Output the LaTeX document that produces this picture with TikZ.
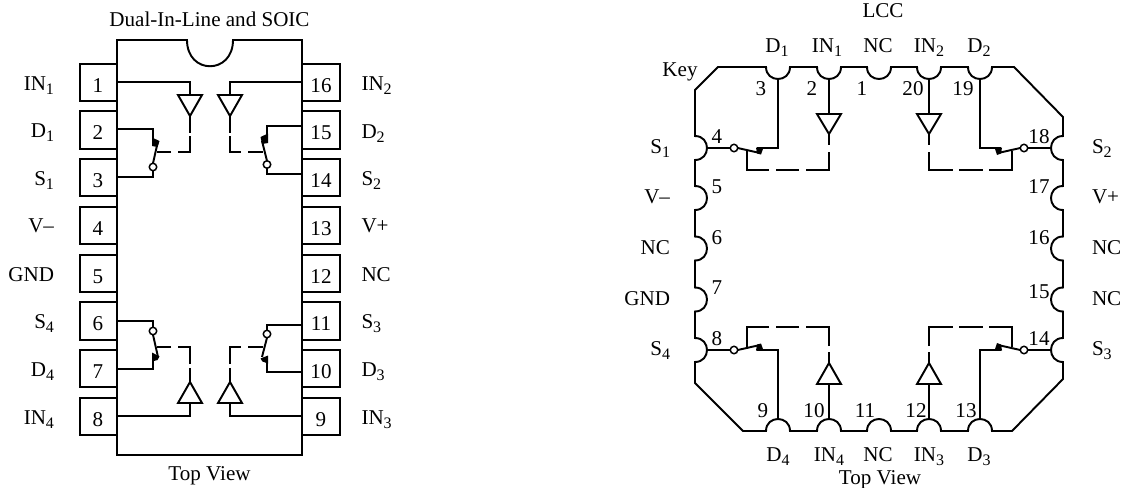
\documentclass[tikz,border=0pt]{standalone}
\usepackage{fontspec}
\setmainfont{Liberation Serif}
\newcommand{\subs}[1]{\raisebox{-3pt}{\fontsize{12pt}{12pt}\selectfont #1}}
\newcommand{\notT}[1]{-- ({#1-12},67) .. controls ({#1-12},83) and ({#1+12},83) .. ({#1+12},67)}
\newcommand{\notB}[1]{-- ({#1+12},431) .. controls ({#1+12},415) and ({#1-12},415) .. ({#1-12},431)}
\newcommand{\notL}[1]{-- (695,{#1+12}) .. controls (711,{#1+12}) and (711,{#1-12}) .. (695,{#1-12})}
\newcommand{\notR}[1]{-- (1063,{#1-12}) .. controls (1047,{#1-12}) and (1047,{#1+12}) .. (1063,{#1+12})}
\tikzset{
  x=0.75pt,y=-0.75pt,
  wire/.style={line width=1.45pt,line join=miter},
  body/.style={line width=1.45pt},
  tri/.style={line width=1.45pt,fill=white},
  blob/.style={fill=black,draw=none},
  pinbox/.style={draw,line width=1.45pt,minimum width=28pt,minimum height=28pt,inner sep=0pt,outer sep=0pt},
  contact/.style={circle,draw,fill=white,line width=1.1pt,minimum size=5.6pt,inner sep=0pt,outer sep=0pt},
  txt/.style={font=\fontsize{15.8pt}{17pt}\selectfont,inner sep=0pt,outer sep=0pt,anchor=base},
  lft/.style={txt,anchor=base east},
  rgt/.style={txt,anchor=base west},
}
\begin{document}
\begin{tikzpicture}
\useasboundingbox (0,0) rectangle (1122,487);
% ---------- Dual-In-Line ----------
\draw[body] (117,40) -- (187,40) .. controls (187,75) and (233,75) .. (233,40) -- (302,40) -- (302,455) -- (117,455) -- cycle;
\foreach \n [count=\i from 0] in {1,2,3,4,5,6,7,8}{
  \node[pinbox] (p\n) at (98.5,{82.2+47.75*\i}) {};
  \node[txt] (pn\n) at (98,{92+47.75*\i}) {\n};
}
\foreach \n [count=\i from 0] in {16,15,14,13,12,11,10,9}{
  \node[pinbox] (p\n) at (321,{82.2+47.75*\i}) {};
  \node[txt] (pn\n) at (321,{92+47.75*\i}) {\n};
}
\node[txt] (dtitle) at (209.5,26.5) {Dual-In-Line and SOIC};
\node[txt] (dview) at (209.5,480) {Top View};
\node[lft] (l1) at (54,90) {IN\subs{1}};
\node[lft] (l2) at (54,137.5) {D\subs{1}};
\node[lft] (l3) at (54,185) {S\subs{1}};
\node[lft] (l4) at (54,232) {V–};
\node[lft] (l5) at (54,281) {GND};
\node[lft] (l6) at (54,328) {S\subs{4}};
\node[lft] (l7) at (54,376) {D\subs{4}};
\node[lft] (l8) at (54,424) {IN\subs{4}};
\node[rgt] (r16) at (361.5,90) {IN\subs{2}};
\node[rgt] (r15) at (361.5,138) {D\subs{2}};
\node[rgt] (r14) at (361.5,185) {S\subs{2}};
\node[rgt] (r13) at (361.5,232) {V+};
\node[rgt] (r12) at (361.5,281) {NC};
\node[rgt] (r11) at (361.5,328) {S\subs{3}};
\node[rgt] (r10) at (361.5,376) {D\subs{3}};
\node[rgt] (r9) at (361.5,424) {IN\subs{3}};
% buffers
\coordinate (b1) at (190,95);  \coordinate (b2) at (230,95);
\coordinate (b4) at (190,403); \coordinate (b3) at (230,403);
\foreach \c in {b1,b2}{\draw[tri] (\c) ++(-12,0) -- ++(24,0) -- ++(-12,21) -- cycle;}
\foreach \c in {b4,b3}{\draw[tri] (\c) ++(-12,0) -- ++(24,0) -- ++(-12,-21) -- cycle;}
% inputs
\draw[wire] (117,82) -| (b1);
\draw[wire] (302,82) -| (b2);
\draw[wire] (117,416) -| (b4);
\draw[wire] (302,416) -| (b3);
% switches
\node[contact] (c1) at (153,167) {};
\node[contact] (c2) at (267,164.5) {};
\node[contact] (c4) at (153,331) {};
\node[contact] (c3) at (267,334) {};
% switch 1
\draw[wire] (117,128.7) -| (153,142);
\draw[wire] (c1.south) -- (153,177) -- (117,177);
\draw[wire] (c1.north) -- (158,141);
\fill[blob] (152,137.5) -- (159.5,141) -- (157.5,147) -- (152,146) -- cycle;
\draw[wire] (190,116) -- (190,133) (190,136) -- (190,152) -- (178,152) (171,152) -- (157,152);
% switch 2
\draw[wire] (302,126) -| (267,140);
\draw[wire] (c2.south) -- (267,173.7) -- (302,173.7);
\draw[wire] (c2.north) -- (262,141);
\fill[blob] (268,133.5) -- (260.5,137) -- (262,144) -- (268,143) -- cycle;
\draw[wire] (230,116) -- (230,133) (230,136) -- (230,152) -- (241,152) (248,152) -- (263,152);
% switch 4
\draw[wire] (117,321) -| (c4.north);
\draw[wire] (117,369) -| (153,354);
\draw[wire] (c4.south) -- (158,357);
\fill[blob] (152,352.5) -- (159.5,356.5) -- (157.5,360) -- (152,361.5) -- cycle;
\draw[wire] (190,382) -- (190,368) (190,364) -- (190,347) -- (178,347) (171,347) -- (157,347);
% switch 3
\draw[wire] (302,325) -| (c3.north);
\draw[wire] (302,372) -| (267,358);
\draw[wire] (c3.south) -- (262,357);
\fill[blob] (268,355.5) -- (260.5,358.5) -- (262.5,361.5) -- (268,363.5) -- cycle;
\draw[wire] (230,382) -- (230,368) (230,364) -- (230,347) -- (241,347) (248,347) -- (263,347);
% ---------- LCC ----------
\draw[body] (718,67) \notT{778} \notT{829} \notT{879} \notT{929} \notT{980} -- (1014,67) -- (1063,117)
  \notR{148} \notR{198} \notR{248.5} \notR{299.5} \notR{350} -- (1063,379) -- (1012,431)
  \notB{980} \notB{929} \notB{879} \notB{829} \notB{778} -- (743,431) -- (695,383)
  \notL{350} \notL{299.5} \notL{248.5} \notL{198} \notL{148} -- (695,90) -- cycle;
\node[txt] (lccT) at (883,17.5) {LCC};
\node[txt] (lccV) at (880,484) {Top View};
\node[txt] (key) at (680,76) {Key};
\foreach \t/\x [count=\k] in {D\subs{1}/777,IN\subs{1}/827,NC/878,IN\subs{2}/929,D\subs{2}/979}{\node[txt] (ta\k) at (\x,52) {\t};}
\foreach \t/\x [count=\k] in {D\subs{4}/778,IN\subs{4}/829,NC/878,IN\subs{3}/929,D\subs{3}/979}{\node[txt] (tb\k) at (\x,461) {\t};}
\foreach \t/\y [count=\k] in {S\subs{1}/153,V–/203,NC/254,GND/305,S\subs{4}/355}{\node[lft] (tl\k) at (670,\y) {\t};}
\foreach \t/\y [count=\k] in {S\subs{2}/153,V+/203,NC/254,NC/305,S\subs{3}/355}{\node[rgt] (tr\k) at (1092,\y) {\t};}
\foreach \n/\x/\y in {3/761/95,2/812/95,1/862/95,20/913/95,19/963/95,
  4/717/143,5/717/193,6/717/244,7/717/294,8/717/345,
  9/763/417,10/814/417,11/865/417,12/916/417,13/966/417,
  14/1039/345,15/1039/298,16/1039/244,17/1039/193,18/1039/143}{\node[txt] (q\n) at (\x,\y) {\n};}
% LCC buffers
\coordinate (e1) at (829,114); \coordinate (e2) at (929,114);
\coordinate (e4) at (829,384); \coordinate (e3) at (929,384);
\foreach \c in {e1,e2}{\draw[tri] (\c) ++(-12,0) -- ++(24,0) -- ++(-12,20) -- cycle;}
\foreach \c in {e4,e3}{\draw[tri] (\c) ++(-12,0) -- ++(24,0) -- ++(-12,-21) -- cycle;}
\draw[wire] (829,79) -- (e1);
\draw[wire] (929,79) -- (e2);
\draw[wire] (829,419) -- (e4);
\draw[wire] (929,419) -- (e3);
\node[contact] (s1) at (734,148) {};
\node[contact] (s2) at (1024,148) {};
\node[contact] (s4) at (734,350) {};
\node[contact] (s3) at (1024,350) {};
% S1/D1
\draw[wire] (707,148) -- (s1);
\draw[wire] (778,79) -- (778,148) -- (757,148);
\draw[wire] (s1.east) -- (760,153);
\fill[blob] (756,147.5) -- (763.5,147.5) -- (761,154.5) -- (757,153.5) -- cycle;
\draw[wire] (829,134) -- (829,145) (829,152) -- (829,170) -- (806,170) (799,170) -- (776,170) (769,170) -- (747,170) -- (747,151);
% S2/D2
\draw[wire] (1052,148) -- (s2);
\draw[wire] (980,79) -- (980,148) -- (1001,148);
\draw[wire] (s2.west) -- (998,153);
\fill[blob] (994.5,147.5) -- (1002,147.5) -- (1001,153.5) -- (997,155) -- cycle;
\draw[wire] (929,134) -- (929,145) (929,152) -- (929,170) -- (953,170) (959,170) -- (983,170) (989,170) -- (1012,170) -- (1012,151);
% S4/D4
\draw[wire] (707,350) -- (s4);
\draw[wire] (778,418) -- (778,350) -- (757,350);
\draw[wire] (s4.east) -- (760,345);
\fill[blob] (756,350.5) -- (763.5,350.5) -- (761,343.5) -- (757,344.5) -- cycle;
\draw[wire] (829,363) -- (829,352) (829,346) -- (829,327) -- (806,327) (799,327) -- (776,327) (769,327) -- (747,327) -- (747,347);
% S3/D3
\draw[wire] (1052,350) -- (s3);
\draw[wire] (980,418) -- (980,350) -- (1001,350);
\draw[wire] (s3.west) -- (998,345);
\fill[blob] (994.5,350.5) -- (1002,350.5) -- (1001,344.5) -- (997,343) -- cycle;
\draw[wire] (929,363) -- (929,352) (929,346) -- (929,327) -- (953,327) (959,327) -- (983,327) (989,327) -- (1012,327) -- (1012,347);
\end{tikzpicture}
\end{document}
